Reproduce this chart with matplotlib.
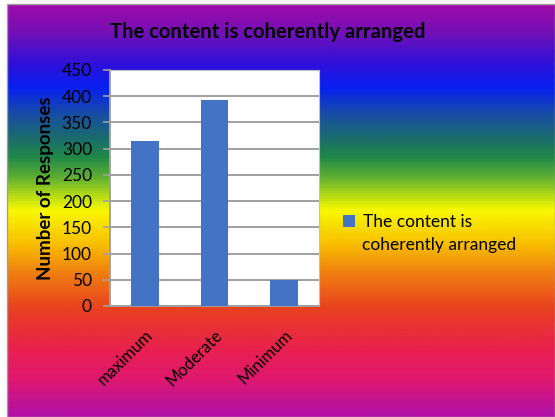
import matplotlib
matplotlib.use('Agg')
import matplotlib.pyplot as plt
import numpy as np
from matplotlib.colors import LinearSegmentedColormap
from matplotlib.patches import Rectangle

plt.rcParams['font.family'] = ['Lato', 'DejaVu Sans']

title = 'The content is coherently arranged'
categories = ['maximum', 'Moderate', 'Minimum']
responses = [315, 392, 50]
series_name = ['The content is', 'coherently arranged']
y_ticks = [0, 50, 100, 150, 200, 250, 300, 350, 400, 450]

# rainbow background, top -> bottom
bg_stops = [(0.00, '#a00aa8'), (0.07, '#7010b8'), (0.14, '#3010d8'),
            (0.20, '#0820f0'), (0.27, '#1850a0'), (0.32, '#1a6a70'),
            (0.37, '#208848'), (0.42, '#60b030'), (0.46, '#b0d818'),
            (0.50, '#f8f800'), (0.58, '#f8c000'), (0.65, '#f08010'),
            (0.74, '#e84020'), (0.84, '#e82050'), (0.91, '#e01870'),
            (1.00, '#b010a8')]
cmap = LinearSegmentedColormap.from_list('bg', bg_stops)

W, H = 555, 417
fig = plt.figure(figsize=(W / 100, H / 100), dpi=100)
fig.patch.set_facecolor('white')

bg = fig.add_axes([8 / W, 0, (W - 8) / W, (H - 4) / H])
bg.imshow(np.linspace(0, 1, 400).reshape(-1, 1), aspect='auto', cmap=cmap,
          extent=[0, 1, 0, 1])
bg.set_axis_off()
fig.add_artist(Rectangle((7 / W, 0), (W - 7) / W, (H - 3.5) / H,
                         transform=fig.transFigure, fill=False,
                         edgecolor='#a0a0a0', linewidth=1))

ax = fig.add_axes([110 / W, (H - 306) / H, 209 / W, 236 / H])
ax.set_facecolor('white')
x = np.arange(len(categories))
ax.bar(x, responses, width=0.4, color='#4472c4', label=series_name[0], zorder=3)
ax.set_xlim(-0.5, 2.5)
ax.set_ylim(0, 450)
ax.set_yticks(y_ticks)
ax.yaxis.grid(True, color='#a0a0a0', linewidth=1.4, zorder=0)
ax.tick_params(axis='y', length=5, width=1.2, color='#a0a0a0', labelsize=12.5, pad=8)
ax.tick_params(axis='x', length=0, labelsize=12, pad=15)
ax.set_xticks(x)
ax.set_xticklabels(categories, rotation=45, ha='right', va='top',
                   rotation_mode='anchor')
for s in ax.spines.values():
    s.set_color('#c0c0c0')
ax.spines['left'].set_color('#a0a0a0')
ax.spines['bottom'].set_color('#a0a0a0')
ax.spines['left'].set_linewidth(1.4)
ax.spines['bottom'].set_linewidth(1.4)
ax.set_ylabel('Number of Responses', fontsize=13.5, fontweight='bold')
ax.yaxis.set_label_coords(-0.27, 0.5)

fig.text(268 / W, 1 - 32 / H, title, ha='center', va='center',
         fontsize=14.6, fontweight='bold')

fig.legend(loc='center left', bbox_to_anchor=(334 / W, 1 - 222 / H),
           frameon=False, fontsize=12.5, handlelength=0.7, handleheight=0.7,
           handletextpad=0.45, borderpad=0)
fig.text(362 / W, 1 - 245 / H, series_name[1], ha='left', va='center',
         fontsize=12.5)

fig.savefig('out.png', dpi=100)
